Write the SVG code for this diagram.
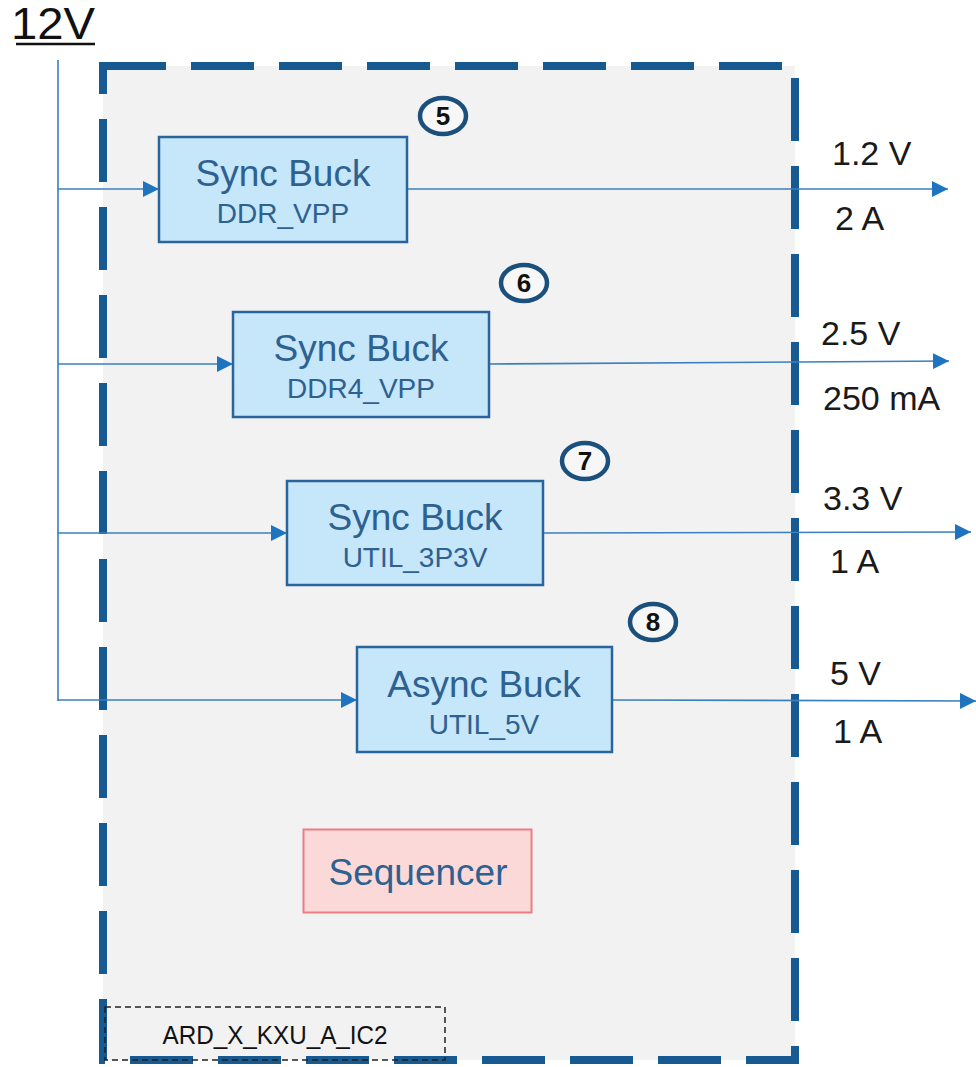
<svg xmlns="http://www.w3.org/2000/svg" width="976" height="1067" viewBox="0 0 976 1067">
<defs>
<style>
.box{fill:#c6e6fa;stroke:#2a649c;stroke-width:2.5}
.t1{font-family:"Liberation Sans",Arial,sans-serif;font-size:37px;fill:#2d6190;text-anchor:middle}
.t2{font-family:"Liberation Sans",Arial,sans-serif;font-size:28px;fill:#2d6190;text-anchor:middle}
.lbl{font-family:"Liberation Sans",Arial,sans-serif;font-size:34px;fill:#1a1a1a}
.num{font-family:"Liberation Sans",Arial,sans-serif;font-size:26px;font-weight:bold;fill:#111;text-anchor:middle}
.circ{fill:#f7f7f7;stroke:#1b4f7c;stroke-width:4.5}
.wire{fill:none;stroke:#3a7fbf;stroke-width:1.6}
</style>
<marker id="ah" viewBox="0 0 10 10" refX="10" refY="5" markerWidth="16" markerHeight="16" markerUnits="userSpaceOnUse" orient="auto">
<path d="M0,0 L10,5 L0,10 z" fill="#1f74c0"/>
</marker>
</defs>
<rect width="976" height="1067" fill="#ffffff"/>
<g id="frame">
<rect x="103" y="66" width="692" height="994" fill="#f2f2f2"/>
<path d="M103,66 H795 V1060 H103 Z" fill="none" stroke="#175a91" stroke-width="8" stroke-dasharray="63 25"/>
</g>
<g id="supply">
<text x="11" y="39" font-family="Liberation Sans,Arial,sans-serif" font-size="44" fill="#111" textLength="84" lengthAdjust="spacingAndGlyphs">12V</text>
<line x1="16" y1="44" x2="95" y2="44" stroke="#111" stroke-width="2.5"/>
</g>
<g id="connectors">
<line class="wire" x1="58" y1="60" x2="58" y2="701"/>
<line class="wire" x1="58" y1="189" x2="159" y2="189" marker-end="url(#ah)"/>
<line class="wire" x1="58" y1="364" x2="233" y2="364" marker-end="url(#ah)"/>
<line class="wire" x1="58" y1="533" x2="287" y2="533" marker-end="url(#ah)"/>
<line class="wire" x1="58" y1="700" x2="357" y2="700" marker-end="url(#ah)"/>
<line class="wire" x1="407" y1="189" x2="948" y2="189" marker-end="url(#ah)"/>
<line class="wire" x1="489" y1="364" x2="949" y2="361" marker-end="url(#ah)"/>
<line class="wire" x1="543" y1="533" x2="971" y2="532" marker-end="url(#ah)"/>
<line class="wire" x1="612" y1="700" x2="976" y2="701" marker-end="url(#ah)"/>
</g>
<g id="buck1">
<rect class="box" x="159" y="137" width="248" height="105"/>
<text class="t1" x="283" y="186">Sync Buck</text>
<text class="t2" x="283" y="223">DDR_VPP</text>
</g>
<g id="buck2">
<rect class="box" x="233" y="312" width="256" height="105"/>
<text class="t1" x="361" y="361">Sync Buck</text>
<text class="t2" x="361" y="398">DDR4_VPP</text>
</g>
<g id="buck3">
<rect class="box" x="287" y="481" width="256" height="104"/>
<text class="t1" x="415" y="530">Sync Buck</text>
<text class="t2" x="415" y="567">UTIL_3P3V</text>
</g>
<g id="buck4">
<rect class="box" x="357" y="647" width="255" height="105"/>
<text class="t1" x="484" y="697">Async Buck</text>
<text class="t2" x="484" y="734">UTIL_5V</text>
</g>
<g id="badge5"><ellipse class="circ" cx="443" cy="116" rx="23" ry="18"/><text class="num" x="443" y="125">5</text></g>
<g id="badge6"><ellipse class="circ" cx="524" cy="283" rx="23" ry="18"/><text class="num" x="524" y="292">6</text></g>
<g id="badge7"><ellipse class="circ" cx="585" cy="461" rx="23" ry="18"/><text class="num" x="585" y="470">7</text></g>
<g id="badge8"><ellipse class="circ" cx="653" cy="622" rx="23" ry="18"/><text class="num" x="653" y="631">8</text></g>
<g id="labels">
<text class="lbl" x="832" y="165">1.2 V</text>
<text class="lbl" x="835" y="230">2 A</text>
<text class="lbl" x="821" y="345">2.5 V</text>
<text class="lbl" x="823" y="410">250 mA</text>
<text class="lbl" x="823" y="510">3.3 V</text>
<text class="lbl" x="830" y="573">1 A</text>
<text class="lbl" x="830" y="685">5 V</text>
<text class="lbl" x="833" y="743">1 A</text>
</g>
<g id="sequencer">
<rect x="303.5" y="829.5" width="228" height="83" fill="#fcd9d9" stroke="#ea7f82" stroke-width="2"/>
<text class="t1" x="418" y="885">Sequencer</text>
</g>
<g id="ic-label">
<rect x="105" y="1007" width="340" height="53" fill="none" stroke="#222" stroke-width="1.5" stroke-dasharray="6 4"/>
<text x="275" y="1044" font-family="Liberation Sans,Arial,sans-serif" font-size="25" fill="#111" text-anchor="middle" textLength="225" lengthAdjust="spacingAndGlyphs">ARD_X_KXU_A_IC2</text>
</g>
</svg>
